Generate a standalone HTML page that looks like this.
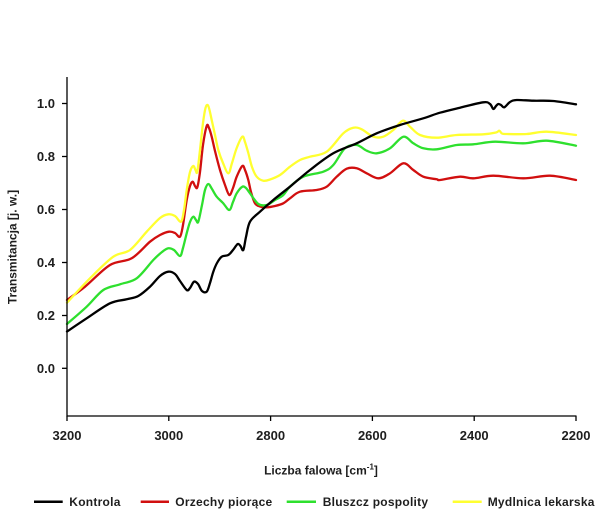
<!DOCTYPE html>
<html>
<head>
<meta charset="utf-8">
<style>
  html,body{margin:0;padding:0;background:#fff;}
  svg{display:block;}
  text{font-family:"Liberation Sans",Arial,sans-serif;font-weight:bold;fill:#1e1e1e;}
</style>
</head>
<body>
<svg id="chart" width="616" height="513" viewBox="0 0 616 513" xmlns="http://www.w3.org/2000/svg">
  <rect width="616" height="513" fill="#fff"/>

  <!-- series -->
  <g id="series" fill="none" stroke-width="2.3" stroke-linejoin="round" stroke-linecap="round">
    <polyline stroke="#d10f0f" points="67,300 85,286.7 110,265 131.7,258.3 150,241.7 160,235 169,231.7 175,233 180,236.7 183,225 186.7,200 190,186 192.7,181.7 195,186 197.3,187.3 200,172 203,145 206.7,126 209,128 211.7,136.7 215,151 220,170 225,185 229.3,195 233,188 236.7,176.7 242.3,166 245,170 248.3,180 251,192 255,203.3 260,206.5 266.7,207.3 275,206 283.3,203.3 290,198.3 300,191.7 316.7,190 326.7,186.7 336.7,176.7 346.7,168.7 356.7,168.3 366.7,173.3 378.3,178.3 390,173.3 403.3,163.3 413.3,170 423.3,176.7 436.7,179.3 440,180 460,176.7 473.3,178.3 493.3,175.7 523.3,178.3 550,175.7 576,180"/>
    <polyline stroke="#2ee02e" points="67,324 86.7,306.7 103.3,290 120,284.3 136.7,278.3 153.3,260 162,252 168.3,248.3 174,250 180,256 183,248 186.7,233.3 190,222 193.3,216.7 196,220 198.3,221.7 202,205 205,190 208.3,184 212,189 216.7,196.7 223,203 229.3,210 233,202 236.7,193.3 242.3,186.7 246,188 250,193.3 258.3,204 266.7,205 275,200 283.3,195 290,186.7 303.3,176.7 323.3,171.7 333.3,165 345,148.3 356.7,145 366.7,150.7 376.7,153.3 390,148.3 403.3,136.7 413.3,143.3 423.3,148.3 436.7,149.3 456.7,145 473.3,144.3 495,141.7 523.3,143.3 546.7,140.7 576,145.7"/>
    <polyline stroke="#ffff30" points="67,302.7 90,278.3 113.3,256.7 130,250 146.7,231.7 160,218 168.3,214.3 175,216 181,221.7 184,210 186.7,190 190,172 193.3,166 195.5,170 197.3,171.7 200,150 203,123 205.5,108 207.7,105 209.5,110 211.7,120 215,135 218.3,150 223,163 228.3,173.3 232,163 236.7,148 242.3,136.7 245,142 248.3,153 252,167 256.7,176.7 263.3,180.7 270,179.5 280,175 290,166.7 300,160 310,156.7 326.7,151.7 343.3,133.3 353.3,127.7 361.7,129.3 373.3,136.7 383.3,136.7 393.3,130 402.7,120.7 410,126.7 420,135 436.7,137.7 456.7,135 483.3,134.3 496,132.5 499.3,130.7 502,133.5 506.7,134 526.7,134 546.7,131.7 576,135"/>
    <polyline stroke="#000" points="67,331.5 86.7,318.3 110,303.3 126.7,299.3 138.3,296 150,286.7 160,276 168.3,271.7 175,274 180,281 186.7,290 190,288 194,281.7 198,284 202,291 206.7,291.7 210,283 213.3,271.7 217,263 221.7,256.7 228.3,255 233,250 237.7,244 240.5,246 243.3,250 246,237 250,221.7 260,211.7 273.3,200 290,186.7 310,170 333.3,153.3 356.7,143.3 376.7,133.3 400,125 423.3,118.3 440,112.7 460,107.7 483.3,102.3 490,104 493.3,109 496,106 498.3,104 501,105 504.3,107.3 510,102 516.7,100 533.3,100.7 553.3,101 576,104.3"/>
  </g>

  <!-- axes -->
  <g stroke="#000" stroke-width="1.3" fill="none">
    <line x1="67" y1="77" x2="67" y2="416.5"/>
    <line x1="66.5" y1="416" x2="576.5" y2="416"/>
    <line x1="62" y1="103.5" x2="67" y2="103.5"/>
    <line x1="62" y1="156.5" x2="67" y2="156.5"/>
    <line x1="62" y1="209.5" x2="67" y2="209.5"/>
    <line x1="62" y1="262.5" x2="67" y2="262.5"/>
    <line x1="62" y1="315.5" x2="67" y2="315.5"/>
    <line x1="62" y1="368.3" x2="67" y2="368.3"/>
    <line x1="67" y1="416" x2="67" y2="421"/>
    <line x1="168.8" y1="416" x2="168.8" y2="421"/>
    <line x1="270.6" y1="416" x2="270.6" y2="421"/>
    <line x1="372.4" y1="416" x2="372.4" y2="421"/>
    <line x1="474.2" y1="416" x2="474.2" y2="421"/>
    <line x1="576" y1="416" x2="576" y2="421"/>
  </g>

  <!-- y tick labels -->
  <g font-size="13" text-anchor="end">
    <text x="55" y="108">1.0</text>
    <text x="55" y="161">0.8</text>
    <text x="55" y="214">0.6</text>
    <text x="55" y="267">0.4</text>
    <text x="55" y="320">0.2</text>
    <text x="55" y="373">0.0</text>
  </g>

  <!-- x tick labels -->
  <g font-size="13" text-anchor="middle">
    <text x="67" y="440">3200</text>
    <text x="168.8" y="440">3000</text>
    <text x="270.6" y="440">2800</text>
    <text x="372.4" y="440">2600</text>
    <text x="474.2" y="440">2400</text>
    <text x="576" y="440">2200</text>
  </g>

  <!-- axis titles -->
  <text x="321" y="474.5" font-size="12" text-anchor="middle">Liczba falowa [cm<tspan font-size="8" dy="-5">-1</tspan><tspan dy="5">]</tspan></text>
  <text transform="translate(16.5,247) rotate(-90)" font-size="12" text-anchor="middle">Transmitancja [j. w.]</text>

  <!-- legend -->
  <g stroke-width="2.5">
    <line x1="34" y1="501.7" x2="62.7" y2="501.7" stroke="#000"/>
    <line x1="140.7" y1="501.7" x2="169" y2="501.7" stroke="#d10f0f"/>
    <line x1="286.7" y1="501.7" x2="316" y2="501.7" stroke="#2ee02e"/>
    <line x1="452.7" y1="501.7" x2="481.7" y2="501.7" stroke="#ffff30"/>
  </g>
  <g font-size="12" letter-spacing="0.25">
    <text x="69.3" y="506">Kontrola</text>
    <text x="175.3" y="506">Orzechy piorące</text>
    <text x="322.7" y="506">Bluszcz pospolity</text>
    <text x="487.7" y="506">Mydlnica lekarska</text>
  </g>
</svg>
<script>
(function(){
  var NS="http://www.w3.org/2000/svg";
  var g=document.getElementById("series");
  var pls=Array.prototype.slice.call(g.getElementsByTagName("polyline"));
  pls.forEach(function(pl){
    var raw=pl.getAttribute("points").trim().split(/\s+/).map(function(s){var a=s.split(",");return [parseFloat(a[0]),parseFloat(a[1])];});
    var n=raw.length, t=0.5;
    var d="M"+raw[0][0]+","+raw[0][1];
    for(var i=0;i<n-1;i++){
      var p0=raw[i>0?i-1:0], p1=raw[i], p2=raw[i+1], p3=raw[i+2<n?i+2:n-1];
      var c1x=p1[0]+(p2[0]-p0[0])/6*t*2, c1y=p1[1]+(p2[1]-p0[1])/6*t*2;
      var c2x=p2[0]-(p3[0]-p1[0])/6*t*2, c2y=p2[1]-(p3[1]-p1[1])/6*t*2;
      d+=" C"+c1x.toFixed(2)+","+c1y.toFixed(2)+" "+c2x.toFixed(2)+","+c2y.toFixed(2)+" "+p2[0]+","+p2[1];
    }
    var path=document.createElementNS(NS,"path");
    path.setAttribute("d",d);
    path.setAttribute("stroke",pl.getAttribute("stroke"));
    g.insertBefore(path,pl);
    g.removeChild(pl);
  });
})();
</script>
</body>
</html>
